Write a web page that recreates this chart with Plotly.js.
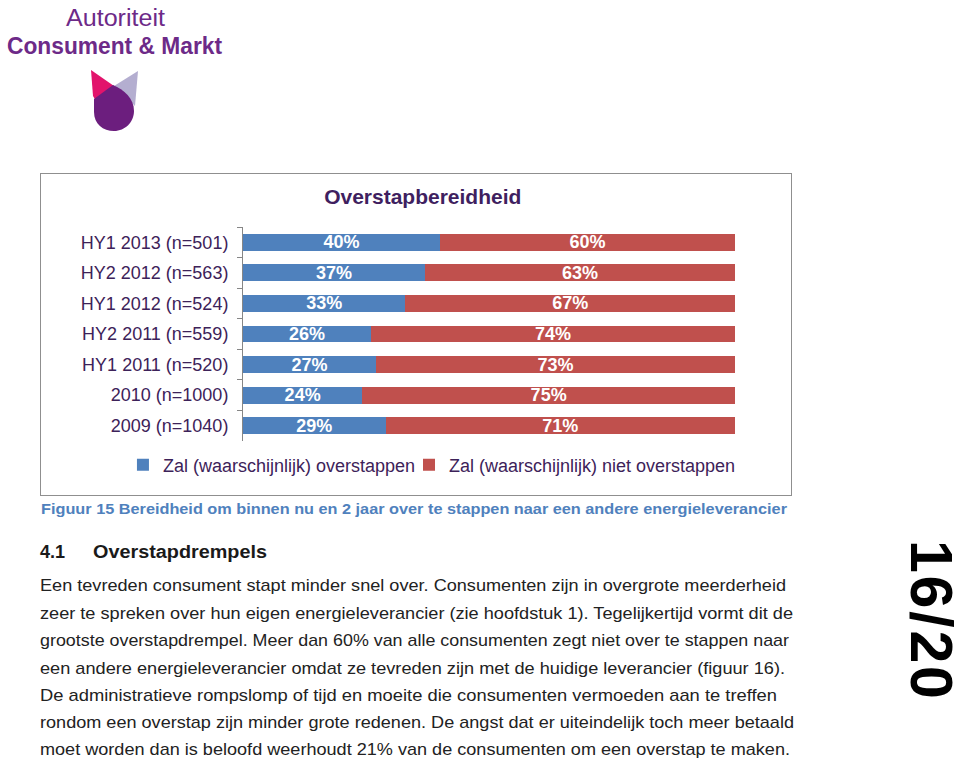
<!DOCTYPE html>
<html>
<head>
<meta charset="utf-8">
<script src="https://cdn.plot.ly/plotly-3.0.1.min.js"></script>
<style>
  html, body { margin: 0; padding: 0; background: #ffffff; }
  body { width: 960px; height: 762px; position: relative; overflow: hidden; font-family: "Liberation Sans", Arial, sans-serif; }
  #page { position: absolute; left: 0; top: 0; }
  #frame { position: absolute; left: 40px; top: 173px; width: 750px; height: 321px; border: 1px solid #8f8f8f; }
  #chart { position: absolute; left: 0; top: 0; width: 750px; height: 321px; }
  #pagenum {
    position: absolute; left: 901px; top: 540px;
    writing-mode: vertical-rl; text-orientation: mixed;
    font-family: "Liberation Sans", Arial, sans-serif; font-weight: bold;
    font-size: 59px; line-height: 59px; letter-spacing: 2.8px; color: #000000;
    white-space: nowrap;
  }
</style>
</head>
<body>
<svg id="page" width="960" height="762" xmlns="http://www.w3.org/2000/svg">
  <!-- logo -->
  <text x="66" y="26" font-family="Liberation Sans, Arial" font-size="23" fill="#6d2a88" textLength="99" lengthAdjust="spacingAndGlyphs">Autoriteit</text>
  <text x="7" y="54" font-family="Liberation Sans, Arial" font-weight="bold" font-size="23" fill="#6d2a88" textLength="215" lengthAdjust="spacingAndGlyphs">Consument &amp; Markt</text>
  <polygon points="91,70 114,86 96,101 93,96" fill="#e2146c"/>
  <polygon points="138,71 135,106 114,86" fill="#b4aed0"/>
  <path d="M113,85 L94,99 L94,112 C94,124 103,131 114,131 C125,131 134,122 134,111 C134,98 124,90 113,85 Z" fill="#6c1e7e"/>

  <!-- caption -->
  <text x="41" y="514" font-family="Liberation Sans, Arial" font-weight="bold" font-size="15" fill="#4f81bd" textLength="746" lengthAdjust="spacingAndGlyphs">Figuur 15 Bereidheid om binnen nu en 2 jaar over te stappen naar een andere energieleverancier</text>

  <!-- heading -->
  <text x="40" y="558" font-family="Liberation Sans, Arial" font-weight="bold" font-size="18" fill="#1a1a1a">4.1</text>
  <text x="93" y="558" font-family="Liberation Sans, Arial" font-weight="bold" font-size="18" fill="#1a1a1a" textLength="174" lengthAdjust="spacingAndGlyphs">Overstapdrempels</text>

  <!-- body -->
  <g font-family="Liberation Sans, Arial" font-size="17" fill="#222222">
    <text x="40" y="591" textLength="746" lengthAdjust="spacingAndGlyphs">Een tevreden consument stapt minder snel over. Consumenten zijn in overgrote meerderheid</text>
    <text x="40" y="619" textLength="753" lengthAdjust="spacingAndGlyphs">zeer te spreken over hun eigen energieleverancier (zie hoofdstuk 1). Tegelijkertijd vormt dit de</text>
    <text x="40" y="646" textLength="749" lengthAdjust="spacingAndGlyphs">grootste overstapdrempel. Meer dan 60% van alle consumenten zegt niet over te stappen naar</text>
    <text x="40" y="674" textLength="745" lengthAdjust="spacingAndGlyphs">een andere energieleverancier omdat ze tevreden zijn met de huidige leverancier (figuur 16).</text>
    <text x="40" y="701" textLength="737" lengthAdjust="spacingAndGlyphs">De administratieve rompslomp of tijd en moeite die consumenten vermoeden aan te treffen</text>
    <text x="40" y="728" textLength="754" lengthAdjust="spacingAndGlyphs">rondom een overstap zijn minder grote redenen. De angst dat er uiteindelijk toch meer betaald</text>
    <text x="40" y="755" textLength="750" lengthAdjust="spacingAndGlyphs">moet worden dan is beloofd weerhoudt 21% van de consumenten om een overstap te maken.</text>
  </g>
</svg>

<div id="pagenum">16/20</div>

<div id="frame"><div id="chart"></div></div>

<script>
// ---- data ----
var categories = [
  "HY1 2013 (n=501)",
  "HY2 2012 (n=563)",
  "HY1 2012 (n=524)",
  "HY2 2011 (n=559)",
  "HY1 2011 (n=520)",
  "2010 (n=1000)",
  "2009 (n=1040)"
];
var overstappen = [40, 37, 33, 26, 27, 24, 29];
var nietOverstappen = [60, 63, 67, 74, 73, 75, 71];
var seriesNames = ["Zal (waarschijnlijk) overstappen", "Zal (waarschijnlijk) niet overstappen"];
var chartTitle = "Overstapbereidheid";

var FONT = "Liberation Sans, Arial, sans-serif";
var PURPLE = "#3d2259";

function pct(arr) { return arr.map(function (v) { return v + "%"; }); }

var traceA = {
  type: "bar",
  orientation: "h",
  name: seriesNames[0],
  legend: "legend",
  y: categories,
  x: overstappen,
  text: pct(overstappen),
  texttemplate: "%{text}",
  textposition: "inside",
  insidetextanchor: "middle",
  constraintext: "none",
  textfont: { family: FONT, size: 18, color: "#ffffff", weight: "bold" },
  marker: { color: "#4f81bd" },
  hoverinfo: "none"
};
var traceB = {
  type: "bar",
  orientation: "h",
  name: seriesNames[1],
  legend: "legend2",
  y: categories,
  x: nietOverstappen,
  text: pct(nietOverstappen),
  texttemplate: "%{text}",
  textposition: "inside",
  insidetextanchor: "middle",
  constraintext: "none",
  textfont: { family: FONT, size: 18, color: "#ffffff", weight: "bold" },
  marker: { color: "#c0504d" },
  hoverinfo: "none"
};

var legendCommon = {
  orientation: "h",
  xanchor: "left",
  y: -0.112, yanchor: "middle",
  font: { family: FONT, size: 18, color: PURPLE },
  bgcolor: "rgba(0,0,0,0)"
};

var layout = {
  width: 750,
  height: 321,
  margin: { l: 202, r: 56, t: 53, b: 54 },
  paper_bgcolor: "#ffffff",
  plot_bgcolor: "#ffffff",
  barmode: "stack",
  barnorm: "percent",
  bargap: 0.45,
  showlegend: true,
  font: { family: FONT, size: 18, color: PURPLE },
  title: {
    text: chartTitle,
    font: { family: FONT, size: 21, color: "#3f1f60", weight: "bold" },
    x: 0.509, xref: "container", xanchor: "center",
    y: 0.928, yref: "container", yanchor: "middle"
  },
  xaxis: {
    range: [0, 100],
    visible: false,
    fixedrange: true
  },
  yaxis: {
    type: "category",
    categoryorder: "array",
    categoryarray: categories,
    autorange: "reversed",
    showline: true,
    linecolor: "#868686",
    linewidth: 1,
    ticks: "outside",
    tickson: "boundaries",
    ticklen: 5,
    tickcolor: "#868686",
    ticklabelstandoff: 10,
    showgrid: false,
    zeroline: false,
    tickfont: { family: FONT, size: 18, color: PURPLE },
    fixedrange: true
  },
  legend: Object.assign({}, legendCommon, { x: -0.244 }),
  legend2: Object.assign({}, legendCommon, { x: 0.3374 })
};

Plotly.newPlot("chart", [traceA, traceB], layout, { staticPlot: true, displayModeBar: false });
</script>
</body>
</html>
